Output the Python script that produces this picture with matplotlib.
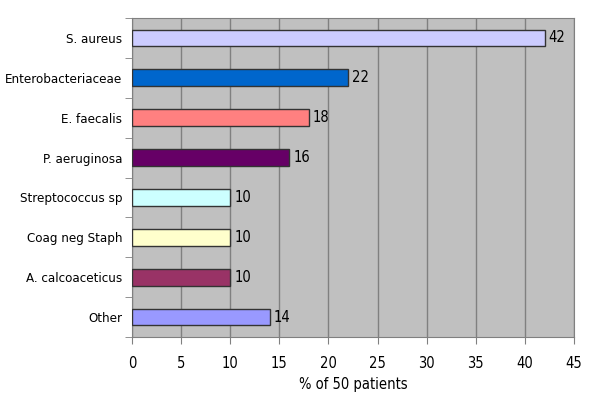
import matplotlib.pyplot as plt
import numpy as np

categories = ["S. aureus", "Enterobacteriaceae", "E. faecalis", "P. aeruginosa",
              "Streptococcus sp", "Coag neg Staph", "A. calcoaceticus", "Other"]
values = [42, 22, 18, 16, 10, 10, 10, 14]
colors = ["#CCCCFF", "#0066CC", "#FF8080", "#660066",
          "#CCFFFF", "#FFFFCC", "#993366", "#9999FF"]

plt.rcParams['font.family'] = ['DejaVu Sans']
plt.rcParams['font.stretch'] = 'condensed'
plt.rcParams['font.size'] = 10

fig = plt.figure(figsize=(6, 4), dpi=100)
ax = fig.add_axes([132 / 600, 1 - 337 / 400, (574 - 132) / 600, (337 - 18) / 400])
ax.set_facecolor("#C0C0C0")

y = np.arange(len(categories))
ax.barh(y, values, height=0.42, color=colors, edgecolor="#333333", linewidth=1, zorder=3)
for yi, v in zip(y, values):
    ax.text(v + 0.4, yi, str(v), va="center", ha="left", fontsize=10.5, zorder=4)

ax.set_xlim(0, 45)
ax.set_ylim(len(categories) - 0.5, -0.5)
ax.set_xticks(np.arange(0, 46, 5))
ax.set_yticks(y)
ax.set_yticklabels(categories, fontsize=9.5)
ax.set_yticks(np.arange(-0.5, len(categories), 1), minor=True)
ax.tick_params(axis="y", which="major", length=0, pad=7)
ax.tick_params(axis="y", which="minor", length=5, color="#808080")
ax.tick_params(axis="x", length=5, color="#808080", pad=9, labelsize=10.5)
ax.grid(axis="x", color="#808080", linewidth=1, zorder=0)
for s in ax.spines.values():
    s.set_color("#808080")
ax.set_xlabel("% of 50 patients", fontsize=10.5, labelpad=4)

fig.savefig("out.png", dpi=100)
